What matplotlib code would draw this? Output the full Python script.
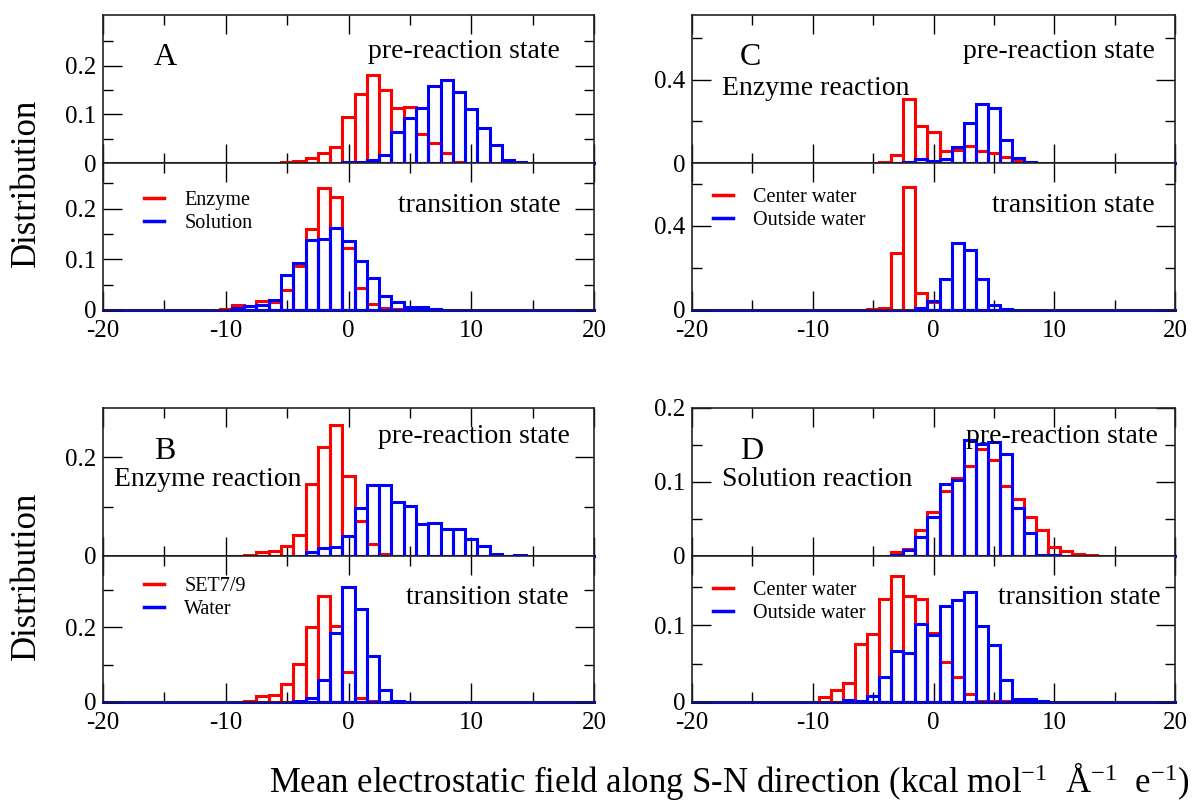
import numpy as np
import matplotlib
matplotlib.use("Agg")
import matplotlib.pyplot as plt
from matplotlib.lines import Line2D
from matplotlib.ticker import MultipleLocator, FixedLocator, FormatStrFormatter

plt.rcParams['font.family'] = ['Liberation Serif', 'DejaVu Serif']
plt.rcParams['mathtext.fontset'] = 'custom'
plt.rcParams['mathtext.rm'] = 'Liberation Serif'
plt.rcParams['mathtext.it'] = 'Liberation Serif:italic'
plt.rcParams['axes.unicode_minus'] = False

W, H = 1198, 802

# histograms, bin width 1 centred on integers; first value belongs to bin *_start

# A: enzyme vs solution
a_pre_enzyme_start = -5
a_pre_enzyme = [0.003, 0.005, 0.01, 0.021, 0.032, 0.094, 0.141, 0.181, 0.149, 0.113,
                0.115, 0.059, 0.041, 0.02, 0.002, 0.001, 0.001, 0.001, 0.001]
a_pre_solution_start = 0
a_pre_solution = [0.002, 0.003, 0.006, 0.016, 0.063, 0.092, 0.113, 0.159, 0.17, 0.145,
                  0.11, 0.072, 0.036, 0.007, 0.002]
a_ts_enzyme_start = -10
a_ts_enzyme = [0.002, 0.009, 0.007, 0.017, 0.015, 0.04, 0.087, 0.16, 0.24, 0.223,
               0.122, 0.043, 0.012, 0.003, 0.001, 0.001, 0.001, 0.001]
a_ts_solution_start = -9
a_ts_solution = [0.003, 0.007, 0.009, 0.019, 0.069, 0.093, 0.138, 0.14, 0.161, 0.137,
                 0.097, 0.064, 0.028, 0.015, 0.005, 0.005, 0.002]

# B: SET7/9 vs water (enzyme reaction)
b_pre_set_start = -9
b_pre_set = [0.001, 0.003, 0.008, 0.011, 0.02, 0.042, 0.145, 0.221, 0.266, 0.163,
             0.07, 0.024, 0.005, 0.001, 0.001, 0.001, 0.001, 0.001, 0.001, 0.001,
             0.001, 0.001, 0.001]
b_pre_water_start = -3
b_pre_water = [0.008, 0.016, 0.018, 0.04, 0.097, 0.143, 0.143, 0.11, 0.102, 0.065,
               0.067, 0.054, 0.054, 0.035, 0.02, 0.005, 0.0, 0.002]
b_ts_set_start = -8
b_ts_set = [0.004, 0.016, 0.018, 0.049, 0.102, 0.2, 0.283, 0.202, 0.08, 0.012,
            0.003, 0.001]
b_ts_water_start = -4
b_ts_water = [0.002, 0.011, 0.06, 0.184, 0.308, 0.249, 0.124, 0.031, 0.003, 0.001]

# C: center vs outside water (enzyme reaction)
c_pre_center_start = -4
c_pre_center = [0.005, 0.037, 0.309, 0.179, 0.147, 0.056, 0.06, 0.08, 0.059, 0.048,
                0.029, 0.016, 0.005]
c_pre_outside_start = -2
c_pre_outside = [0.004, 0.02, 0.01, 0.02, 0.077, 0.19, 0.283, 0.264, 0.112, 0.026, 0.003]
c_ts_center_start = -5
c_ts_center = [0.003, 0.011, 0.27, 0.584, 0.083, 0.04, 0.002, 0.002, 0.002, 0.002, 0.002]
c_ts_outside_start = -1
c_ts_outside = [0.008, 0.044, 0.15, 0.317, 0.286, 0.15, 0.024, 0.003]

# D: center vs outside water (solution reaction)
d_pre_center_start = -3
d_pre_center = [0.005, 0.01, 0.035, 0.06, 0.088, 0.105, 0.121, 0.145, 0.13, 0.095,
                0.077, 0.053, 0.035, 0.012, 0.007, 0.003, 0.002]
d_pre_outside_start = -3
d_pre_outside = [0.001, 0.008, 0.026, 0.053, 0.097, 0.103, 0.157, 0.152, 0.154, 0.138,
                 0.065, 0.031, 0.002, 0.001]
d_ts_center_start = -9
d_ts_center = [0.0065, 0.016, 0.025, 0.075, 0.089, 0.134, 0.164, 0.138, 0.134, 0.09,
               0.052, 0.032, 0.01, 0.001, 0.001, 0.001, 0.001, 0.001, 0.001]
d_ts_outside_start = -7
d_ts_outside = [0.002, 0.001, 0.008, 0.033, 0.066, 0.064, 0.101, 0.087, 0.125, 0.133,
                0.143, 0.099, 0.074, 0.028, 0.0035, 0.0035, 0.001]

x_ticks = [-20, -10, 0, 10, 20]


def px_box(x0, y0, x1, y1):
    return [x0 / W, 1 - y1 / H, (x1 - x0) / W, (y1 - y0) / H]


def fig_text(fig, x, y, s, size=20, **kw):
    fig.text(x / W, 1 - y / H, s, fontsize=size, va='baseline', ha='left', **kw)


def hist_axes(fig, box, red_start, red, blue_start, blue, ymax, major, minor, show_x):
    ax = fig.add_axes(box)
    ax.axhline(0, color='blue', lw=2.2, zorder=1, clip_on=False)
    ax.bar(np.arange(red_start, red_start + len(red)), red, width=1.0, fill=False,
           edgecolor='red', linewidth=2.2, zorder=2)
    ax.bar(np.arange(blue_start, blue_start + len(blue)), blue, width=1.0, fill=False,
           edgecolor='blue', linewidth=2.2, zorder=3)
    ax.set_xlim(-20, 20)
    ax.set_ylim(0, ymax)
    ax.xaxis.set_major_locator(FixedLocator(x_ticks))
    ax.xaxis.set_minor_locator(MultipleLocator(5))
    ax.yaxis.set_major_locator(FixedLocator(major))
    ax.yaxis.set_minor_locator(FixedLocator(minor))
    ax.yaxis.set_major_formatter(FormatStrFormatter('%g'))
    ax.xaxis.set_major_formatter(FormatStrFormatter('%g'))
    ax.tick_params(which='both', direction='in', top=True, right=True, width=1.0,
                   labelsize=18, pad=5)
    ax.tick_params(which='major', length=14)
    ax.tick_params(which='minor', length=7)
    ax.tick_params(axis='x', labelbottom=show_x, pad=7)
    for sp in ax.spines.values():
        sp.set_linewidth(1.2)
        sp.set_color('#222222')
    return ax


def add_legend(fig, ax, labels, x, y):
    handles = [Line2D([], [], color='red', lw=2.5), Line2D([], [], color='blue', lw=2.5)]
    ax.legend(handles, labels, loc='upper left', bbox_to_anchor=(x / W, 1 - y / H),
              bbox_transform=fig.transFigure, frameon=False, fontsize=14.5,
              handlelength=1.0, handletextpad=1.0, labelspacing=0.2,
              borderpad=0, borderaxespad=0)


fig = plt.figure(figsize=(W / 100, H / 100), dpi=100)

# panel A
hist_axes(fig, px_box(103, 15, 594, 163), a_pre_enzyme_start, a_pre_enzyme,
          a_pre_solution_start, a_pre_solution, 0.304,
          [0, 0.1, 0.2], [0.05, 0.15, 0.25], False)
ax = hist_axes(fig, px_box(103, 163, 594, 310), a_ts_enzyme_start, a_ts_enzyme,
               a_ts_solution_start, a_ts_solution, 0.29,
               [0, 0.1, 0.2], [0.05, 0.15, 0.25], True)
add_legend(fig, ax, ['Enzyme', 'Solution'], 144, 191)
fig_text(fig, 154, 65, 'A', size=23)
fig_text(fig, 368, 58, 'pre-reaction state')
fig_text(fig, 398, 212, 'transition state')

# panel C
hist_axes(fig, px_box(692, 15, 1175, 163), c_pre_center_start, c_pre_center,
          c_pre_outside_start, c_pre_outside, 0.71,
          [0, 0.4], [0.2, 0.6], False)
ax = hist_axes(fig, px_box(692, 163, 1175, 310), c_ts_center_start, c_ts_center,
               c_ts_outside_start, c_ts_outside, 0.70,
               [0, 0.4], [0.2, 0.6], True)
add_legend(fig, ax, ['Center water', 'Outside water'], 713, 188)
fig_text(fig, 740, 65, 'C', size=23)
fig_text(fig, 963, 58, 'pre-reaction state')
fig_text(fig, 722, 95, 'Enzyme reaction')
fig_text(fig, 992, 212, 'transition state')

# panel B
hist_axes(fig, px_box(103, 408, 594, 556), b_pre_set_start, b_pre_set,
          b_pre_water_start, b_pre_water, 0.3,
          [0, 0.2], [0.1], False)
ax = hist_axes(fig, px_box(103, 556, 594, 702), b_ts_set_start, b_ts_set,
               b_ts_water_start, b_ts_water, 0.39,
               [0, 0.2], [0.1, 0.3], True)
add_legend(fig, ax, ['SET7/9', 'Water'], 144, 577)
fig_text(fig, 154, 459, 'B', size=23)
fig_text(fig, 378, 443, 'pre-reaction state')
fig_text(fig, 114, 486, 'Enzyme reaction')
fig_text(fig, 406, 604, 'transition state')

# panel D
hist_axes(fig, px_box(692, 408, 1175, 556), d_pre_center_start, d_pre_center,
          d_pre_outside_start, d_pre_outside, 0.2,
          [0, 0.1, 0.2], [0.05, 0.15], False)
ax = hist_axes(fig, px_box(692, 556, 1175, 702), d_ts_center_start, d_ts_center,
               d_ts_outside_start, d_ts_outside, 0.19,
               [0, 0.1], [0.05, 0.15], True)
add_legend(fig, ax, ['Center water', 'Outside water'], 713, 581)
fig_text(fig, 740, 459, 'D', size=23)
fig_text(fig, 966, 443, 'pre-reaction state')
fig_text(fig, 722, 486, 'Solution reaction')
fig_text(fig, 998, 604, 'transition state')

# shared axis labels
fig.text(26 / W, 1 - 183 / H, 'Distribution', rotation=90, fontsize=25,
         ha='center', va='center')
fig.text(26 / W, 1 - 576 / H, 'Distribution', rotation=90, fontsize=25,
         ha='center', va='center')
fig.text(729 / W, 1 - 792 / H,
         r'Mean electrostatic field along S-N direction (kcal mol$^{-1}$  Å$^{-1}$  e$^{-1}$)',
         fontsize=25, ha='center', va='baseline')

fig.savefig('out.png', dpi=100)
